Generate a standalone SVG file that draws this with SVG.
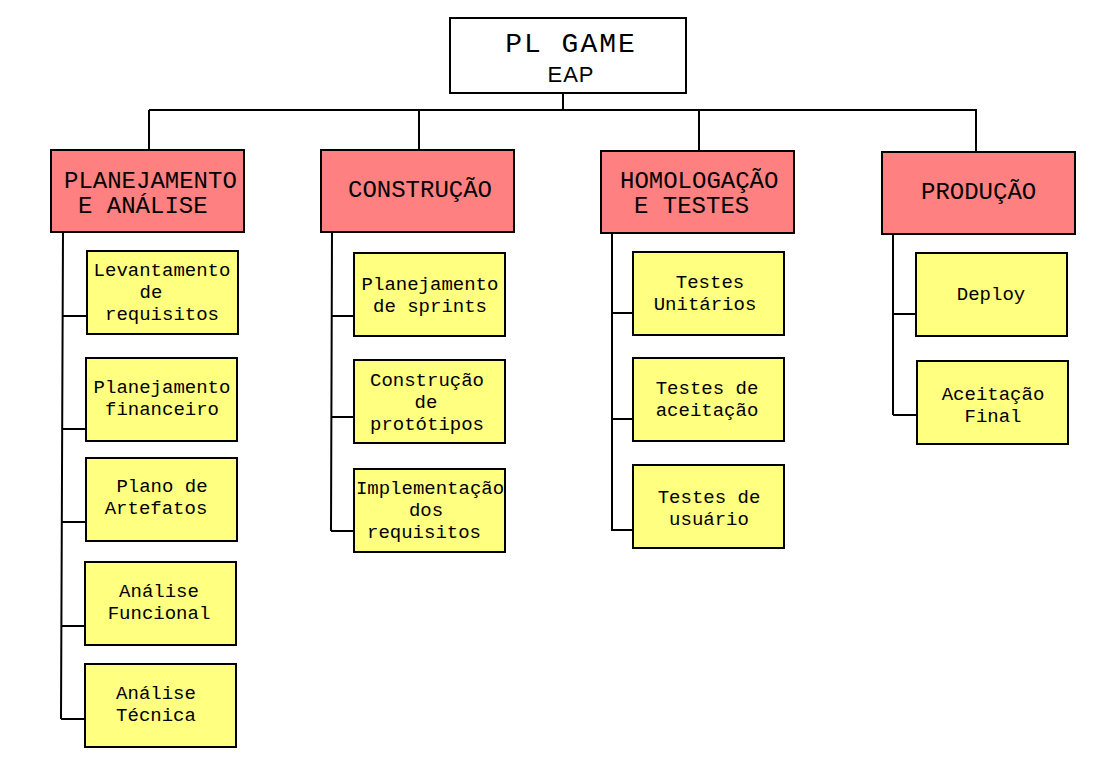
<svg xmlns="http://www.w3.org/2000/svg" width="1107" height="759" viewBox="0 0 1107 759">
<style>
.box{stroke:#000;stroke-width:2}
.red{fill:#ff8080}
.yel{fill:#ffff80}
.title{fill:#fff}
.h{font-family:"Liberation Mono",monospace;font-size:24px;fill:#000}
.t{font-family:"Liberation Mono",monospace;font-size:19px;fill:#000;text-anchor:middle}
.ln{stroke:#000;stroke-width:2;fill:none}
</style>
<rect width="1107" height="759" fill="#fff"/>
<g id="connectors">
<path class="ln" d="M563 93V109M149 110H976M149 110V150M419 110V150M699 110V151M976 109V152"/>
<path class="ln" d="M63 232L61 719M63 316H87M62 429H86M62 522H86M61 626H85M61 719H85"/>
<path class="ln" d="M332 232L331 531M332 316H354M331 417H354M331 531H354"/>
<path class="ln" d="M612 233V531M612 313H633M612 419H633M612 530H633"/>
<path class="ln" d="M893 234V415M893 314H916M893 415H917"/>
</g>
<g id="root">
<rect class="box title" x="450" y="18" width="236" height="75"/>
<text x="571" y="52" font-family="Liberation Mono,monospace" font-size="28" letter-spacing="2" text-anchor="middle">PL GAME</text>
<text x="571" y="82" font-family="Liberation Sans,sans-serif" font-size="22" letter-spacing="1" text-anchor="middle">EAP</text>
</g>
<g id="planejamento">
<rect class="box red" x="51" y="150" width="193" height="82"/>
<text class="h" x="64" y="188">PLANEJAMENTO</text>
<text class="h" x="78" y="213">E ANÁLISE</text>
</g>
<g id="construcao">
<rect class="box red" x="321" y="150" width="193" height="82"/>
<text class="h" x="348" y="197">CONSTRUÇÃO</text>
</g>
<g id="homologacao">
<rect class="box red" x="601" y="151" width="193" height="82"/>
<text class="h" x="620" y="188">HOMOLOGAÇÃO</text>
<text class="h" x="634" y="213">E TESTES</text>
</g>
<g id="producao">
<rect class="box red" x="882" y="152" width="193" height="82"/>
<text class="h" x="921" y="199">PRODUÇÃO</text>
</g>
<g id="levantamento">
<rect class="box yel" x="87" y="251" width="151" height="83"/>
<text class="t" x="162" y="276">Levantamento</text>
<text class="t" x="151" y="298">de</text>
<text class="t" x="162" y="320">requisitos</text>
</g>
<g id="financeiro">
<rect class="box yel" x="86" y="358" width="151" height="83"/>
<text class="t" x="162" y="393">Planejamento</text>
<text class="t" x="162" y="415">financeiro</text>
</g>
<g id="artefatos">
<rect class="box yel" x="86" y="458" width="151" height="83"/>
<text class="t" x="162" y="492">Plano de</text>
<text class="t" x="156" y="514">Artefatos</text>
</g>
<g id="funcional">
<rect class="box yel" x="85" y="562" width="151" height="83"/>
<text class="t" x="159" y="597">Análise</text>
<text class="t" x="159" y="619">Funcional</text>
</g>
<g id="tecnica">
<rect class="box yel" x="85" y="664" width="151" height="83"/>
<text class="t" x="156" y="699">Análise</text>
<text class="t" x="156" y="721">Técnica</text>
</g>
<g id="sprints">
<rect class="box yel" x="354" y="253" width="151" height="83"/>
<text class="t" x="430" y="290">Planejamento</text>
<text class="t" x="430" y="312">de sprints</text>
</g>
<g id="prototipos">
<rect class="box yel" x="354" y="360" width="151" height="83"/>
<text class="t" x="427" y="386">Construção</text>
<text class="t" x="426" y="408">de</text>
<text class="t" x="427" y="430">protótipos</text>
</g>
<g id="implementacao">
<rect class="box yel" x="354" y="469" width="151" height="83"/>
<text class="t" x="430" y="494">Implementação</text>
<text class="t" x="426" y="516">dos</text>
<text class="t" x="424" y="538">requisitos</text>
</g>
<g id="unitarios">
<rect class="box yel" x="633" y="252" width="151" height="83"/>
<text class="t" x="710" y="288">Testes</text>
<text class="t" x="705" y="310">Unitários</text>
</g>
<g id="aceitacao">
<rect class="box yel" x="633" y="358" width="151" height="83"/>
<text class="t" x="707" y="394">Testes de</text>
<text class="t" x="707" y="416">aceitação</text>
</g>
<g id="usuario">
<rect class="box yel" x="633" y="465" width="151" height="83"/>
<text class="t" x="709" y="503">Testes de</text>
<text class="t" x="709" y="525">usuário</text>
</g>
<g id="deploy">
<rect class="box yel" x="916" y="253" width="151" height="83"/>
<text class="t" x="991" y="300">Deploy</text>
</g>
<g id="final">
<rect class="box yel" x="917" y="361" width="151" height="83"/>
<text class="t" x="993" y="400">Aceitação</text>
<text class="t" x="993" y="422">Final</text>
</g>
</svg>
